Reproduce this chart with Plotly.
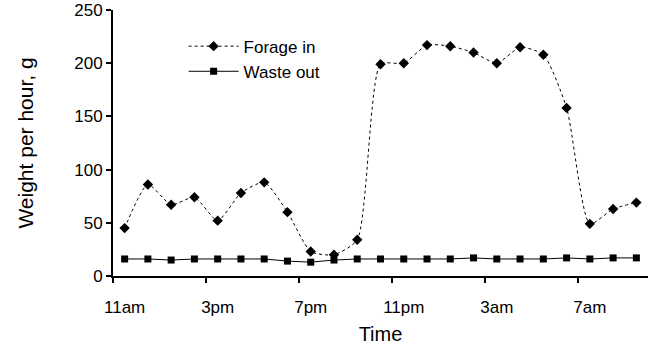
import plotly.graph_objects as go

hours = list(range(23))
hour_labels = ["11am", "3pm", "7pm", "11pm", "3am", "7am"]
label_positions = [0, 4, 8, 12, 16, 20]
boundary_positions = [-0.5, 3.5, 7.5, 11.5, 15.5, 19.5]

forage_in = [45, 86, 67, 74, 52, 78, 88, 60, 23, 20, 34, 199, 200, 217, 216, 210,
             200, 215, 208, 158, 49, 63, 69]
waste_out = [16, 16, 15, 16, 16, 16, 16, 14, 13, 15, 16, 16, 16, 16, 16, 17,
             16, 16, 16, 17, 16, 17, 17]

FONT = "Arial, Liberation Sans, sans-serif"

fig = go.Figure()
fig.add_trace(go.Scatter(
    x=hours, y=forage_in, name="Forage in", mode="lines+markers",
    line=dict(color="#000000", width=1, dash="dot", shape="spline", smoothing=0.6),
    marker=dict(symbol="diamond", size=8, color="#000000"),
))
fig.add_trace(go.Scatter(
    x=hours, y=waste_out, name="Waste out", mode="lines+markers",
    line=dict(color="#000000", width=1),
    marker=dict(symbol="square", size=7, color="#000000"),
))
# invisible trace to host tick-mark axis
fig.add_trace(go.Scatter(x=[-0.5], y=[0], xaxis="x2", mode="markers",
                         marker=dict(opacity=0), showlegend=False, hoverinfo="skip"))

fig.update_layout(
    width=653, height=345,
    margin=dict(l=113, r=5, t=10, b=69),
    paper_bgcolor="white", plot_bgcolor="white",
    font=dict(family=FONT, size=17, color="#000000"),
    showlegend=True,
    legend=dict(x=0.132, y=0.93, xanchor="left", yanchor="top",
                font=dict(size=17), bgcolor="rgba(0,0,0,0)",
                itemwidth=50, tracegroupgap=0),
    xaxis=dict(range=[-0.5, 22.5], tickvals=label_positions, ticktext=hour_labels,
               showline=True, linecolor="#000000", linewidth=2,
               ticks="outside", ticklen=15, tickcolor="rgba(0,0,0,0)",
               showgrid=False, zeroline=False, automargin=False,
               title=dict(text="Time", font=dict(size=20), standoff=13)),
    xaxis2=dict(range=[-0.5, 22.5], overlaying="x", anchor="y", side="bottom",
                tickvals=boundary_positions, ticks="outside", ticklen=6,
                tickwidth=2, tickcolor="#000000", automargin=False,
                showticklabels=False, showgrid=False, zeroline=False, showline=False),
    yaxis=dict(range=[0, 250], tickvals=[0, 50, 100, 150, 200, 250],
               showline=True, linecolor="#000000", linewidth=2,
               ticks="outside", ticklen=5, tickwidth=2, tickcolor="#000000",
               showgrid=False, zeroline=False, automargin=False,
               title=dict(text="Weight per hour, g", font=dict(size=21), standoff=35)),
)

fig.write_html("out.html")
